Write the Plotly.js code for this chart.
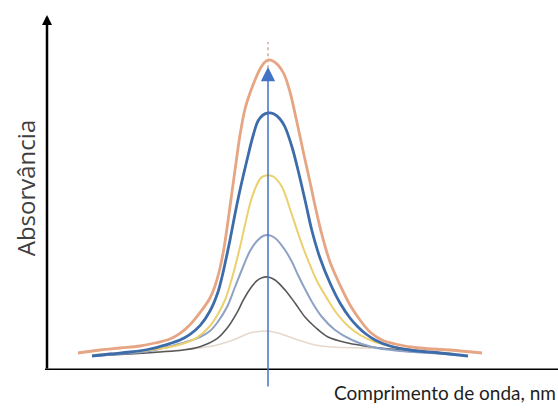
<!DOCTYPE html>
<html>
<head>
<meta charset="utf-8">
<script src="https://cdn.plot.ly/plotly-3.0.1.min.js"></script>
<style>
  html, body { margin: 0; padding: 0; background: #ffffff; }
  #chart { width: 558px; height: 409px; }
</style>
</head>
<body>
<div id="chart"></div>
<script>
// Absorption spectra recorded at increasing concentration (arbitrary units).
// Wavelength in nm, absorbance in a.u.

const peakWavelength = 460;

const wlOrange = [270, 292, 312, 332, 347, 362, 372, 382, 392, 402, 407, 412, 416, 420, 424, 428, 432, 437, 442, 447, 452, 456, 460, 465, 470, 476, 482, 488, 496, 502, 508, 514, 522, 532, 542, 552, 562, 574, 587, 612, 642, 674];
const absOrange = [0.051, 0.060, 0.066, 0.072, 0.081, 0.093, 0.110, 0.136, 0.172, 0.216, 0.252, 0.306, 0.366, 0.447, 0.534, 0.621, 0.705, 0.783, 0.831, 0.870, 0.903, 0.921, 0.930, 0.927, 0.915, 0.888, 0.834, 0.756, 0.645, 0.564, 0.480, 0.405, 0.324, 0.255, 0.195, 0.150, 0.114, 0.090, 0.078, 0.066, 0.060, 0.051];

const wlBlue = [284, 302, 322, 342, 357, 372, 382, 392, 402, 410, 414, 418, 422, 427, 432, 439, 445, 450, 455, 460, 466, 472, 477, 484, 490, 497, 504, 512, 522, 532, 542, 550, 558, 567, 582, 602, 632, 660];
const absBlue = [0.042, 0.048, 0.054, 0.063, 0.075, 0.090, 0.107, 0.133, 0.177, 0.234, 0.279, 0.333, 0.390, 0.468, 0.540, 0.630, 0.702, 0.747, 0.765, 0.771, 0.768, 0.753, 0.729, 0.669, 0.600, 0.510, 0.417, 0.336, 0.261, 0.201, 0.156, 0.129, 0.108, 0.090, 0.072, 0.060, 0.051, 0.042];

const wlYellow = [284, 312, 342, 362, 377, 389, 402, 410, 417, 422, 427, 432, 437, 442, 447, 452, 456, 460, 466, 474, 482, 490, 496, 502, 510, 520, 530, 540, 552, 567, 587, 612, 647];
const absYellow = [0.045, 0.051, 0.060, 0.069, 0.081, 0.097, 0.132, 0.168, 0.210, 0.255, 0.309, 0.369, 0.435, 0.498, 0.543, 0.573, 0.582, 0.584, 0.579, 0.549, 0.483, 0.411, 0.360, 0.315, 0.261, 0.210, 0.165, 0.132, 0.105, 0.084, 0.069, 0.057, 0.048];

const wlSteel = [284, 312, 342, 359, 375, 392, 402, 409, 419, 427, 435, 442, 449, 455, 460, 467, 477, 484, 490, 497, 504, 514, 527, 544, 564, 592, 622, 652];
const absSteel = [0.042, 0.048, 0.057, 0.069, 0.081, 0.099, 0.117, 0.141, 0.189, 0.249, 0.309, 0.357, 0.387, 0.402, 0.405, 0.396, 0.360, 0.324, 0.285, 0.243, 0.204, 0.159, 0.120, 0.090, 0.069, 0.057, 0.051, 0.045];

const wlGray = [284, 322, 352, 375, 392, 409, 420, 429, 435, 442, 449, 454, 460, 467, 477, 487, 497, 507, 520, 540, 564, 592, 622, 647];
const absGray = [0.042, 0.048, 0.054, 0.060, 0.070, 0.094, 0.129, 0.172, 0.208, 0.243, 0.268, 0.277, 0.279, 0.270, 0.240, 0.201, 0.159, 0.129, 0.099, 0.081, 0.069, 0.060, 0.054, 0.048];

const wlFaint = [302, 342, 375, 392, 409, 425, 442, 452, 460, 470, 490, 507, 524, 557, 592, 632];
const absFaint = [0.051, 0.054, 0.060, 0.066, 0.075, 0.090, 0.111, 0.116, 0.117, 0.111, 0.090, 0.075, 0.069, 0.066, 0.063, 0.060];

const xTitle = 'Comprimento de onda, nm';
const yTitle = 'Absorvância';

function spectrum(x, y, color, width) {
  return {
    x: x, y: y, type: 'scatter', mode: 'lines',
    line: { color: color, width: width, shape: 'spline', smoothing: 1 },
    hoverinfo: 'skip', showlegend: false
  };
}

const traces = [
  spectrum(wlFaint, absFaint, '#e6d8cc', 1.5),
  spectrum(wlGray, absGray, '#585858', 1.6),
  spectrum(wlSteel, absSteel, '#8ea2c6', 2),
  spectrum(wlYellow, absYellow, '#ecd06e', 2),
  spectrum(wlBlue, absBlue, '#3d6cab', 2.8),
  spectrum(wlOrange, absOrange, '#e6a583', 2.8)
];

const yTop = 1.065;
const xLeft = 238;

const layout = {
  width: 558, height: 409,
  margin: { l: 46, r: 0, t: 15, b: 39 },
  paper_bgcolor: '#ffffff', plot_bgcolor: '#ffffff',
  xaxis: { range: [xLeft, 750], showgrid: false, zeroline: false, showline: false,
           showticklabels: false, ticks: '', fixedrange: true },
  yaxis: { range: [0, yTop], showgrid: false, zeroline: false, showline: false,
           showticklabels: false, ticks: '', fixedrange: true },
  shapes: [
    // baseline axis
    { type: 'line', xref: 'paper', yref: 'y', x0: -0.002, x1: 1, y0: 0, y1: 0,
      line: { color: '#000000', width: 3 } },
    // peak position guide above the arrow tip
    { type: 'line', xref: 'x', yref: 'y', x0: peakWavelength, x1: peakWavelength, y0: 0.905, y1: 0.984,
      line: { color: '#c9ada3', width: 1.5, dash: 'dot' }, layer: 'below' }
  ],
  annotations: [
    // absorbance axis with arrow
    { x: xLeft + 1, y: yTop, ax: xLeft + 1, ay: 0, xref: 'x', yref: 'y', axref: 'x', ayref: 'y',
      text: '', showarrow: true, arrowhead: 2, arrowsize: 0.8, arrowwidth: 2.5, arrowcolor: '#000000', standoff: 0 },
    // increasing concentration at the peak
    { x: peakWavelength, y: 0.909, ax: peakWavelength, ay: -0.054, xref: 'x', yref: 'y', axref: 'x', ayref: 'y',
      text: '', showarrow: true, arrowhead: 2, arrowsize: 1.9, arrowwidth: 1.5, arrowcolor: '#4472c4', standoff: 0 },
    { text: yTitle, xref: 'paper', yref: 'paper', x: -0.041, y: 0.512, textangle: -90,
      xanchor: 'center', yanchor: 'middle', showarrow: false,
      font: { family: 'Open Sans', size: 24, color: '#404040' } },
    { text: xTitle, xref: 'paper', yref: 'paper', x: 1, y: -0.062,
      xanchor: 'right', yanchor: 'middle', showarrow: false,
      font: { family: 'Lato', size: 19, color: '#1e1e1e' } }
  ]
};

Plotly.newPlot('chart', traces, layout, { staticPlot: true, displayModeBar: false });
</script>
</body>
</html>
